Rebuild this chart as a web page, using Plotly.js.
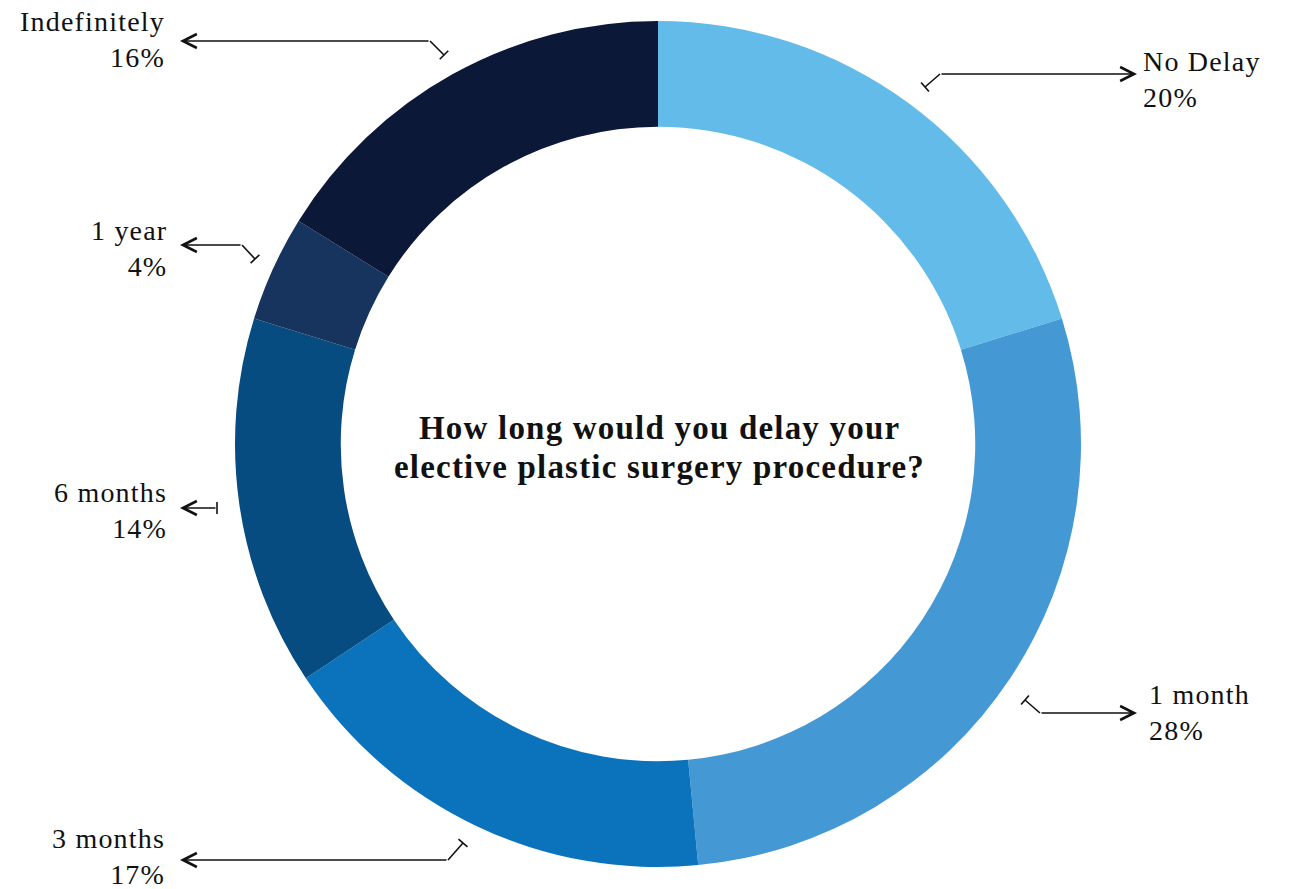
<!DOCTYPE html>
<html>
<head>
<meta charset="utf-8">
<script src="https://cdn.plot.ly/plotly-3.0.1.min.js"></script>
<style>
html,body{margin:0;padding:0;background:#fff;}
#chart{width:1300px;height:889px;}
.annotation-text{letter-spacing:1.2px;}
</style>
</head>
<body>
<div id="chart"></div>
<script>
const categories = ["No Delay", "1 month", "3 months", "6 months", "1 year", "Indefinitely"];
const values = [20, 28, 17, 14, 4, 16];
const pctLabels = ["20%", "28%", "17%", "14%", "4%", "16%"];
const colors = ["#62BBE8", "#4499D4", "#0A73BB", "#064C80", "#17345F", "#0B1838"];
const centerTitleLines = ["How long would you delay your", "elective plastic surgery procedure?"];

const W = 1300, H = 889;
const px = v => v / W;
const py = v => 1 - v / H;

// label placement (pixels): text anchor, arrow head, bend point, T-bar end
const labelLayout = [
  {tx: 1141, ty: 79, side: "left", head: [1137, 74], bend: [940, 74], end: [925, 87]},
  {tx: 1147, ty: 712, side: "left", head: [1137, 713], bend: [1040, 713], end: [1025, 700]},
  {tx: 167, ty: 856, side: "right", head: [180, 860], bend: [448, 860], end: [463, 843]},
  {tx: 169, ty: 510, side: "right", head: [180, 508], bend: [217, 508], end: [217, 508]},
  {tx: 169, ty: 248, side: "right", head: [180, 245], bend: [242, 245], end: [255, 259]},
  {tx: 167, ty: 40, side: "right", head: [180, 41], bend: [430, 41], end: [444, 55]}
];

const font = "'Liberation Serif', 'Times New Roman', serif";
const annotations = [];
const shapes = [];

const titleY = [428, 467];
centerTitleLines.forEach((t, k) => {
  annotations.push({
    text: "<b>" + t + "</b>",
    x: px(659), y: py(titleY[k]), xref: "paper", yref: "paper",
    xanchor: "center", yanchor: "middle",
    showarrow: false, align: "center",
    font: {family: font, size: 33, color: "#111"}
  });
});

categories.forEach((c, i) => {
  const L = labelLayout[i];
  annotations.push({
    text: c + "<br>" + pctLabels[i],
    x: px(L.tx), y: py(L.ty), xref: "paper", yref: "paper",
    xanchor: L.side === "left" ? "left" : "right", yanchor: "middle",
    align: L.side, showarrow: false,
    font: {family: font, size: 28, color: "#111"}
  });
  // arrow (horizontal segment with open arrow head)
  annotations.push({
    text: "", x: px(L.head[0]), y: py(L.head[1]), xref: "paper", yref: "paper",
    ax: L.bend[0] - L.head[0], ay: L.bend[1] - L.head[1],
    showarrow: true, arrowhead: 5, arrowsize: 1.7, arrowwidth: 1.6,
    arrowcolor: "#111", standoff: 0, startstandoff: 0,
    font: {size: 1}
  });
  // diagonal segment
  if (L.end[0] !== L.bend[0] || L.end[1] !== L.bend[1]) {
    shapes.push({type: "line", xref: "paper", yref: "paper",
      x0: px(L.bend[0]), y0: py(L.bend[1]), x1: px(L.end[0]), y1: py(L.end[1]),
      line: {color: "#111", width: 1.6}});
  }
  // T bar perpendicular to final segment
  let dx = L.end[0] - L.bend[0], dy = L.end[1] - L.bend[1];
  if (dx === 0 && dy === 0) { dx = L.bend[0] - L.head[0]; dy = L.bend[1] - L.head[1]; }
  const len = Math.hypot(dx, dy);
  const nx = -dy / len * 6, ny = dx / len * 6;
  shapes.push({type: "line", xref: "paper", yref: "paper",
    x0: px(L.end[0] + nx), y0: py(L.end[1] + ny), x1: px(L.end[0] - nx), y1: py(L.end[1] - ny),
    line: {color: "#111", width: 1.6}});
});

const trace = {
  type: "pie",
  labels: categories,
  values: values,
  hole: 0.75,
  sort: false,
  direction: "clockwise",
  rotation: 0,
  textinfo: "none",
  hoverinfo: "label+percent",
  marker: {colors: colors, line: {width: 0}},
  domain: {x: [px(235), px(1081)], y: [py(867), py(21)]},
  showlegend: false
};

Plotly.newPlot("chart", [trace], {
  width: W, height: H,
  margin: {l: 0, r: 0, t: 0, b: 0},
  paper_bgcolor: "#fff",
  showlegend: false,
  annotations: annotations,
  shapes: shapes
}, {displayModeBar: false, staticPlot: true});
</script>
</body>
</html>
